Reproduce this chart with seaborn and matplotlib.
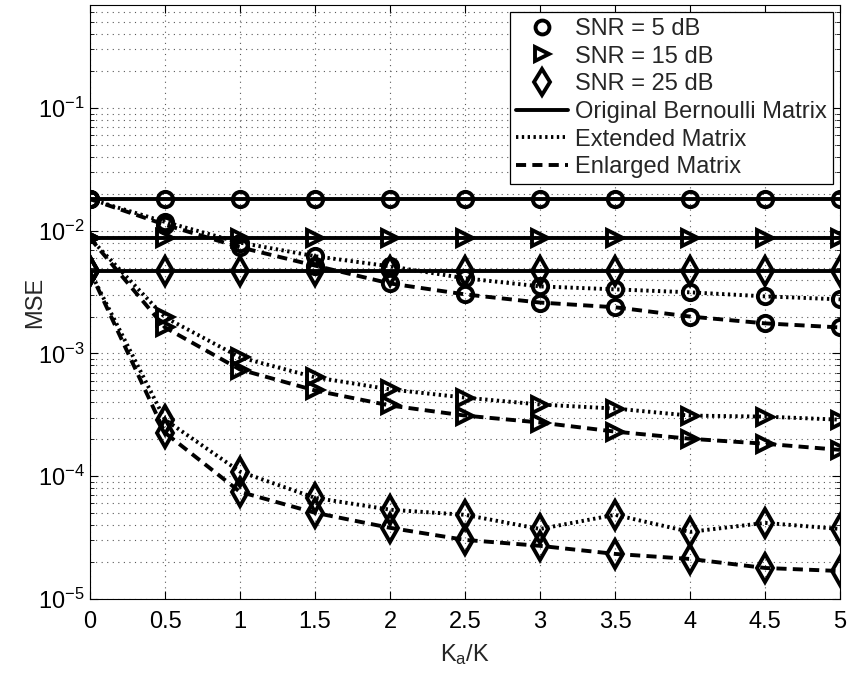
import numpy as np
import pandas as pd
import matplotlib
matplotlib.use("Agg")
import matplotlib.pyplot as plt
import seaborn as sns
from matplotlib.lines import Line2D
from matplotlib.ticker import LogLocator, NullFormatter

sns.set_theme(style="white")
plt.rcParams['font.family'] = ['Liberation Sans', 'DejaVu Sans']
plt.rcParams['mathtext.fontset'] = 'custom'
plt.rcParams['mathtext.rm'] = 'Liberation Sans'
plt.rcParams['mathtext.it'] = 'Liberation Sans'

ratio = [0, 0.5, 1, 1.5, 2, 2.5, 3, 3.5, 4, 4.5, 5]
xtick_labels = ['0', '0.5', '1', '1.5', '2', '2.5', '3', '3.5', '4', '4.5', '5']

orig_snr5 = [0.0181] * 11
orig_snr15 = [0.0087] * 11
orig_snr25 = [0.00467] * 11

ext_snr5 = [0.0181, 0.0118, 0.0080, 0.0062, 0.00513, 0.0041, 0.00352, 0.00333, 0.00315, 0.00292, 0.00276]
enl_snr5 = [0.0181, 0.0112, 0.00733, 0.0052, 0.00372, 0.00303, 0.0026, 0.00238, 0.0020, 0.00176, 0.00163]

ext_snr15 = [0.0087, 0.00197, 0.00093, 0.00064, 0.00051, 0.000437, 0.000384, 0.000356, 0.000312, 0.000306, 0.000289]
enl_snr15 = [0.0087, 0.00163, 0.00074, 0.00050, 0.000377, 0.000312, 0.000274, 0.000231, 0.000202, 0.000184, 0.000164]

ext_snr25 = [0.00467, 0.000289, 0.000109, 6.67e-5, 5.34e-5, 4.85e-5, 3.72e-5, 4.85e-5, 3.52e-5, 4.17e-5, 3.72e-5]
enl_snr25 = [0.00467, 0.000226, 7.46e-5, 5.04e-5, 3.8e-5, 3.03e-5, 2.71e-5, 2.33e-5, 2.12e-5, 1.79e-5, 1.69e-5]

snr_labels = ["SNR = 5 dB", "SNR = 15 dB", "SNR = 25 dB"]
matrix_labels = ["Original Bernoulli Matrix", "Extended Matrix", "Enlarged Matrix"]

fig = plt.figure(figsize=(8.61, 6.73), dpi=100)
ax = fig.add_axes([90 / 861, 74 / 673, 750 / 861, 594 / 673])

markers = ['o', '>', 'd']
styles = ['-', (0, (0.6, 0.9)), (0, (2.6, 1.6))]
series = [
    [orig_snr5, ext_snr5, enl_snr5],
    [orig_snr15, ext_snr15, enl_snr15],
    [orig_snr25, ext_snr25, enl_snr25],
]
msize = {'o': 11, '>': 11, 'd': 14}

lw = 2.8
mew = 2.8
for mi, mk in enumerate(markers):
    for si, ls in enumerate(styles):
        sns.lineplot(x=ratio, y=series[mi][si], ax=ax, color='black',
                     linestyle=ls, linewidth=lw, marker=mk,
                     markersize=msize[mk],
                     markerfacecolor='none', markeredgecolor='black',
                     markeredgewidth=mew, legend=False, errorbar=None)

ax.set_yscale('log')
ax.set_xlim(0, 5)
ax.set_ylim(1e-5, 0.69)
ax.set_xticks(ratio)
ax.set_xticklabels(xtick_labels)
ax.yaxis.set_major_locator(LogLocator(base=10, numticks=10))
ax.yaxis.set_minor_locator(LogLocator(base=10, subs=np.arange(2, 10), numticks=20))
ax.yaxis.set_minor_formatter(NullFormatter())

ax.grid(True, which='major', axis='both', color='0.35', linestyle=(0, (1, 4)), linewidth=0.8)
ax.grid(True, which='minor', axis='y', color='0.35', linestyle=(0, (1, 4)), linewidth=0.8)

ax.tick_params(axis='both', which='both', direction='in', top=True, right=True,
               bottom=True, left=True, colors='black', labelsize=17)
ax.tick_params(axis='both', which='major', length=6, width=0.8)
ax.tick_params(axis='y', which='minor', length=3, width=0.6)
ax.tick_params(axis='x', pad=9)
ax.tick_params(axis='y', pad=4)

for sp in ax.spines.values():
    sp.set_color('black')
    sp.set_linewidth(0.8)

ax.set_xlabel(r'K$_\mathregular{a}$/K', fontsize=17, labelpad=6)
ax.set_ylabel('MSE', fontsize=17, labelpad=-6)

handles = []
for mk, lab in zip(markers, snr_labels):
    handles.append(Line2D([], [], color='black', linestyle='none', marker=mk,
                          markersize=msize[mk] - 1, markerfacecolor='none',
                          markeredgewidth=mew, label=lab))
for ls, lab in zip(styles, matrix_labels):
    handles.append(Line2D([], [], color='black', linestyle=ls, linewidth=lw, label=lab))

leg = ax.legend(handles=handles, loc='upper right', fontsize=17, frameon=True,
                fancybox=False, framealpha=1, edgecolor='black',
                handlelength=2.2, handletextpad=0.3, labelspacing=0.24,
                borderpad=0.25, borderaxespad=0.3)
leg.get_frame().set_linewidth(0.9)

fig.savefig('out.png', dpi=100)
